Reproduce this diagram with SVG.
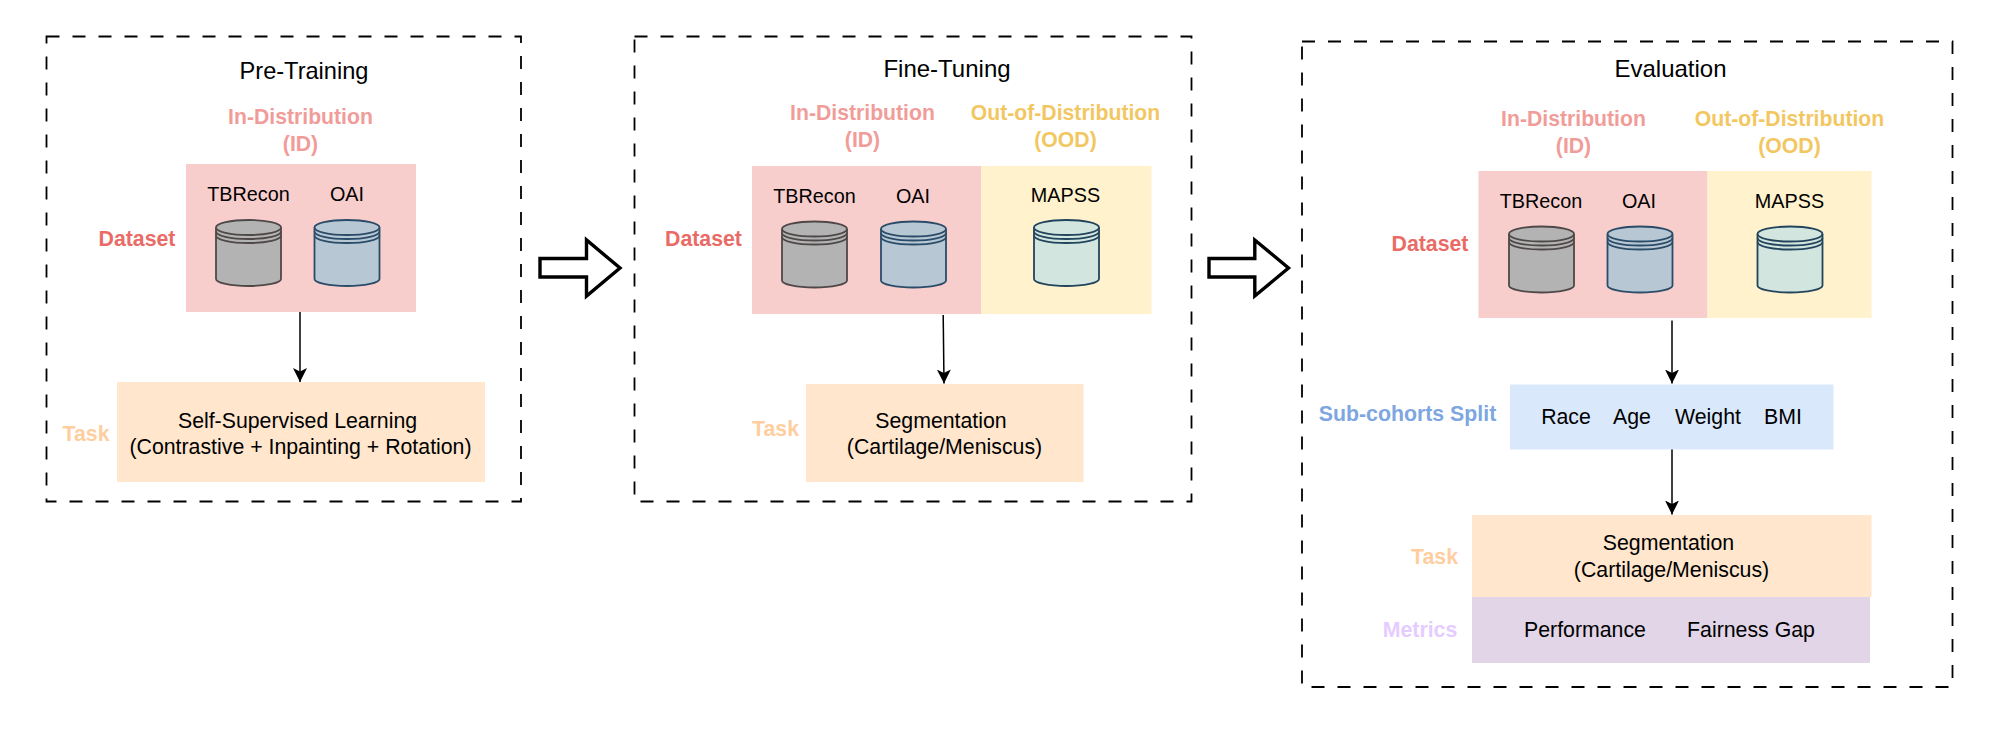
<svg xmlns="http://www.w3.org/2000/svg" width="2011" height="730" viewBox="0 0 2011 730">
<style>
text{font-family:"Liberation Sans",Arial,sans-serif;text-anchor:middle;fill:#000;font-size:21.3px}
.nm{font-size:19.8px}
.title{font-size:24px}
.lab{font-weight:bold;font-size:21.3px}
.id{fill:#f19c99;font-size:21.2px;font-weight:bold}
.ood{fill:#f2c761;font-size:21.2px;font-weight:bold}
.ds{fill:#ea6b66}.tk{fill:#ffce9f}.sub{fill:#7ea6e0}.me{fill:#e5ccff}
.panel{fill:none;stroke:#000;stroke-width:1.8;stroke-dasharray:13 13}
.conn{fill:none;stroke:#000;stroke-width:1.5}
.big{fill:#fff;stroke:#000;stroke-width:3.4}
.grey{fill:#b3b3b3;stroke:#4f4848}.blue{fill:#b8c7d4;stroke:#2a4c68}.green{fill:#d2e6df;stroke:#23445d}
</style>
<defs>
<marker id="ah" markerUnits="userSpaceOnUse" markerWidth="16" markerHeight="16" refX="14" refY="7" orient="auto"><path d="M0 0L14 7L0 14L3.5 7Z" fill="#000"/></marker>
<g id="cyl" stroke-width="1.8">
<path d="M0 7.500A32.500 7.500 0 0 1 65 7.500V59A32.500 7 0 0 1 0 59Z"/>
<path fill="none" d="M0 7.500A32.500 7.500 0 0 0 65 7.500M0 11.500A32.500 7.500 0 0 0 65 11.500M0 15.500A32.500 7.500 0 0 0 65 15.500"/>
</g>
</defs>

<g id="pretraining">
<rect class="panel" x="46.500" y="36.500" width="474.500" height="465"/>
<text class="title" x="304" y="79" style="font-size:23.600px">Pre-Training</text>
<text class="id" x="300.500" y="124">In-Distribution</text>
<text class="id" x="300.500" y="151">(ID)</text>
<text class="lab ds" x="137" y="246">Dataset</text>
<text class="lab tk" x="86" y="441">Task</text>
</g>
<g id="pre-dataset">
<rect x="186" y="164" width="230" height="148" fill="#f8cecc"/>
<text class="nm" x="248.500" y="201">TBRecon</text>
<text class="nm" x="347" y="201">OAI</text>
<use href="#cyl" class="grey" x="216" y="220"/>
<use href="#cyl" class="blue" x="314.500" y="220"/>
</g>
<g id="pre-task">
<rect x="117" y="382" width="368" height="100" fill="#ffe6cc"/>
<text x="297.500" y="428">Self-Supervised Learning</text>
<text x="300.500" y="454">(Contrastive + Inpainting + Rotation)</text>
</g>

<g id="finetuning">
<rect class="panel" x="634.500" y="36.500" width="557" height="465"/>
<text class="title" x="947" y="76.500">Fine-Tuning</text>
<text class="id" x="862.500" y="120">In-Distribution</text>
<text class="id" x="862.500" y="146.500">(ID)</text>
<text class="ood" x="1065.500" y="120">Out-of-Distribution</text>
<text class="ood" x="1065.500" y="146.500">(OOD)</text>
<text class="lab ds" x="703.500" y="246">Dataset</text>
<text class="lab tk" x="775.500" y="436">Task</text>
</g>
<g id="fine-dataset">
<rect x="752" y="166" width="229" height="148" fill="#f8cecc"/>
<rect x="981" y="166" width="170.500" height="148" fill="#fff2cc"/>
<text class="nm" x="814.500" y="203">TBRecon</text>
<text class="nm" x="913" y="203">OAI</text>
<text class="nm" x="1065.500" y="202">MAPSS</text>
<use href="#cyl" class="grey" x="782" y="221.500"/>
<use href="#cyl" class="blue" x="881" y="221.500"/>
<use href="#cyl" class="green" x="1034" y="220"/>
</g>
<g id="fine-task">
<rect x="806" y="384" width="277.500" height="98" fill="#ffe6cc"/>
<text x="941" y="428">Segmentation</text>
<text x="944.500" y="454">(Cartilage/Meniscus)</text>
</g>

<g id="evaluation">
<rect class="panel" x="1302" y="41.500" width="650.500" height="645.500"/>
<text class="title" x="1670.500" y="77">Evaluation</text>
<text class="id" x="1573.500" y="126">In-Distribution</text>
<text class="id" x="1573.500" y="152.500">(ID)</text>
<text class="ood" x="1789.500" y="126">Out-of-Distribution</text>
<text class="ood" x="1789.500" y="152.500">(OOD)</text>
<text class="lab ds" x="1430" y="251">Dataset</text>
<text class="lab sub" x="1407.500" y="421">Sub-cohorts Split</text>
<text class="lab tk" x="1434.500" y="564">Task</text>
<text class="lab me" x="1420" y="637">Metrics</text>
</g>
<g id="eval-dataset">
<rect x="1478.500" y="171" width="229" height="147" fill="#f8cecc"/>
<rect x="1707.500" y="171" width="164" height="147" fill="#fff2cc"/>
<text class="nm" x="1541" y="208">TBRecon</text>
<text class="nm" x="1639" y="208">OAI</text>
<text class="nm" x="1789.500" y="208">MAPSS</text>
<use href="#cyl" class="grey" x="1509" y="226.500"/>
<use href="#cyl" class="blue" x="1607.500" y="226.500"/>
<use href="#cyl" class="green" x="1757.500" y="226.500"/>
</g>
<g id="eval-subcohorts">
<rect x="1510" y="384.500" width="323.500" height="65" fill="#dae8fc"/>
<text x="1566" y="424">Race</text>
<text x="1632" y="424">Age</text>
<text x="1708" y="424">Weight</text>
<text x="1783" y="424">BMI</text>
</g>
<g id="eval-task">
<rect x="1472" y="515" width="399.500" height="82" fill="#ffe6cc"/>
<text x="1668.500" y="550">Segmentation</text>
<text x="1671.500" y="577">(Cartilage/Meniscus)</text>
</g>
<g id="eval-metrics">
<rect x="1472" y="597" width="398" height="66" fill="#e1d5e7"/>
<text x="1585" y="637">Performance</text>
<text x="1751" y="637">Fairness Gap</text>
</g>

<g id="connectors">
<path class="conn" marker-end="url(#ah)" d="M300 312V382"/>
<path class="conn" marker-end="url(#ah)" d="M943.200 315L944 383.500"/>
<path class="conn" marker-end="url(#ah)" d="M1672 320.500V383.500"/>
<path class="conn" marker-end="url(#ah)" d="M1672 449.500V514.500"/>
<path class="big" d="M540 258.500H586.500V240L620 268L586.500 296V277H540Z"/>
<path class="big" d="M1209 258.500H1254.800V240L1288.500 268L1254.800 296V277H1209Z"/>
</g>
</svg>
